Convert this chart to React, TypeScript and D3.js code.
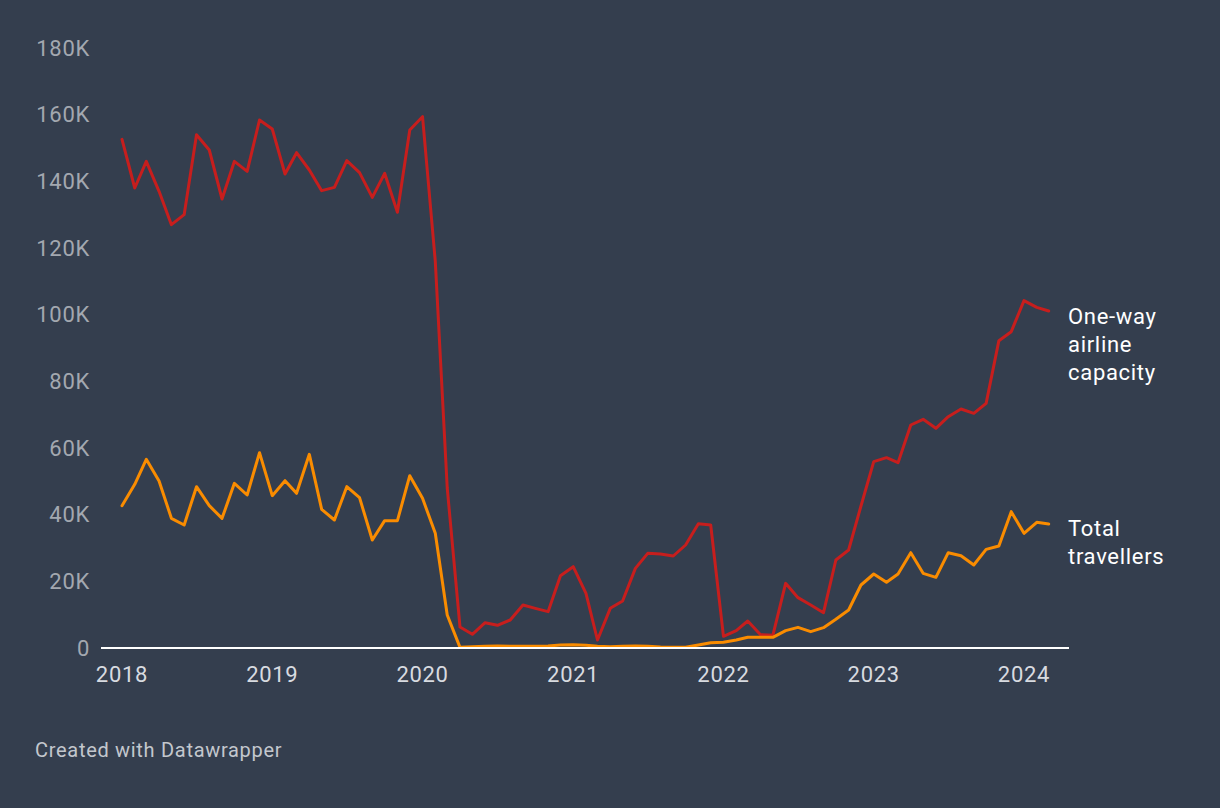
import React, { useRef, useEffect } from 'react';
import * as d3 from 'd3';

// monthly values, Jan 2018 - Mar 2024, in thousands
const capacity = [
  152.6, 138, 146, 137, 127, 130, 154, 149.4, 134.7, 146, 143, 158.4,
  155.7, 142.2, 148.6, 143.4, 137.2, 138.2, 146.2, 142.6, 135.2, 142.4, 130.7, 155.4,
  159.4, 116, 48, 6.3, 4.1, 7.6, 6.8, 8.4, 12.9, 11.9, 10.9, 21.7,
  24.4, 16.4, 2.4, 11.9, 14.1, 23.9, 28.4, 28.2, 27.6, 30.9, 37.3, 36.9,
  3.5, 5.2, 8.1, 4.0, 3.8, 19.4, 15.1, 12.9, 10.6, 26.4, 29.4, 42.6,
  55.9, 57.1, 55.6, 66.9, 68.6, 65.9, 69.4, 71.7, 70.4, 73.4, 92.2, 94.9,
  104.2, 102.2, 101.1,
];
const travellers = [
  42.7, 49.1, 56.6, 50.1, 38.9, 36.9, 48.4, 42.7, 38.9, 49.4, 45.9, 58.6,
  45.7, 50.2, 46.4, 58.1, 41.6, 38.4, 48.4, 45.1, 32.4, 38.2, 38.2, 51.7,
  44.9, 34.4, 9.9, 0.2, 0.4, 0.5, 0.6, 0.5, 0.5, 0.5, 0.6, 0.9,
  1.0, 0.8, 0.5, 0.4, 0.5, 0.6, 0.5, 0.3, 0.2, 0.2, 0.9, 1.6,
  1.7, 2.4, 3.2, 3.2, 3.2, 5.2, 6.2, 4.9, 6.1, 8.6, 11.4, 18.9,
  22.2, 19.7, 22.2, 28.6, 22.4, 21.2, 28.6, 27.7, 24.9, 29.6, 30.6, 40.9,
  34.4, 37.7, 37.2,
];
const yTicks = [0, 20, 40, 60, 80, 100, 120, 140, 160, 180];
const yearTicks = [2018, 2019, 2020, 2021, 2022, 2023, 2024];
const series = [
  { name: 'capacity', values: capacity, color: '#c71e1d', label: ['One-way', 'airline', 'capacity'] },
  { name: 'travellers', values: travellers, color: '#fa8c00', label: ['Total', 'travellers'] },
];

const W = 1220;
const H = 808;
const BG = '#343e4e';
const FONT = 'Roboto, sans-serif';
const SPACING = '0.7px';

const App = () => {
  const svgRef = useRef<SVGSVGElement>(null);
  useEffect(() => {
    const svg = d3.select(svgRef.current);
    svg.selectAll('*').remove();

    const dates = capacity.map((_, i) => new Date(2018, i, 1));
    const x = d3.scaleTime()
      .domain([new Date(2018, 0, 1), new Date(2024, 0, 1)])
      .range([122, 1024]);
    const y = d3.scaleLinear().domain([0, 180]).range([648, 48]);

    svg.append('rect').attr('width', W).attr('height', H).attr('fill', BG);

    // y tick labels, no grid
    svg.append('g')
      .selectAll('text')
      .data(yTicks)
      .join('text')
      .attr('x', 90)
      .attr('y', d => y(d))
      .attr('dy', '0.35em')
      .attr('text-anchor', 'end')
      .attr('fill', '#a3a8b0')
      .style('font-size', '22px')
      .style('letter-spacing', SPACING)
      .style('font-family', FONT)
      .text(d => (d === 0 ? '0' : `${d}K`));

    // year labels
    svg.append('g')
      .selectAll('text')
      .data(yearTicks)
      .join('text')
      .attr('x', d => x(new Date(d, 0, 1)))
      .attr('y', 682)
      .attr('text-anchor', 'middle')
      .attr('fill', '#d8dbe0')
      .style('font-size', '22px')
      .style('letter-spacing', SPACING)
      .style('font-family', FONT)
      .text(d => d);

    const line = d3.line<number>()
      .x((_, i) => x(dates[i]))
      .y(d => y(d));

    series.forEach(s => {
      svg.append('path')
        .datum(s.values)
        .attr('d', line)
        .attr('fill', 'none')
        .attr('stroke', s.color)
        .attr('stroke-width', 3)
        .attr('stroke-linejoin', 'round')
        .attr('stroke-linecap', 'round');
    });

    // baseline
    svg.append('line')
      .attr('x1', 101)
      .attr('x2', 1069)
      .attr('y1', y(0))
      .attr('y2', y(0))
      .attr('stroke', '#ffffff')
      .attr('stroke-width', 2);

    // direct labels
    const labelY = [324, 536];
    series.forEach((s, si) => {
      svg.append('text')
        .attr('x', 1068)
        .attr('y', labelY[si])
        .attr('fill', '#ffffff')
        .style('font-size', '22px')
        .style('letter-spacing', SPACING)
        .style('font-family', FONT)
        .selectAll('tspan')
        .data(s.label)
        .join('tspan')
        .attr('x', 1068)
        .attr('dy', (d, i) => (i === 0 ? 0 : 28))
        .text(d => d);
    });

    svg.append('text')
      .attr('x', 35)
      .attr('y', 757)
      .attr('fill', '#c3c7cd')
      .style('font-size', '20px')
      .style('letter-spacing', SPACING)
      .style('font-family', FONT)
      .text('Created with Datawrapper');
  }, []);

  return (
    <svg
      ref={svgRef}
      width={W}
      height={H}
      style={{ position: 'absolute', left: 0, top: 0, display: 'block' }}
    />
  );
};

export default App;
